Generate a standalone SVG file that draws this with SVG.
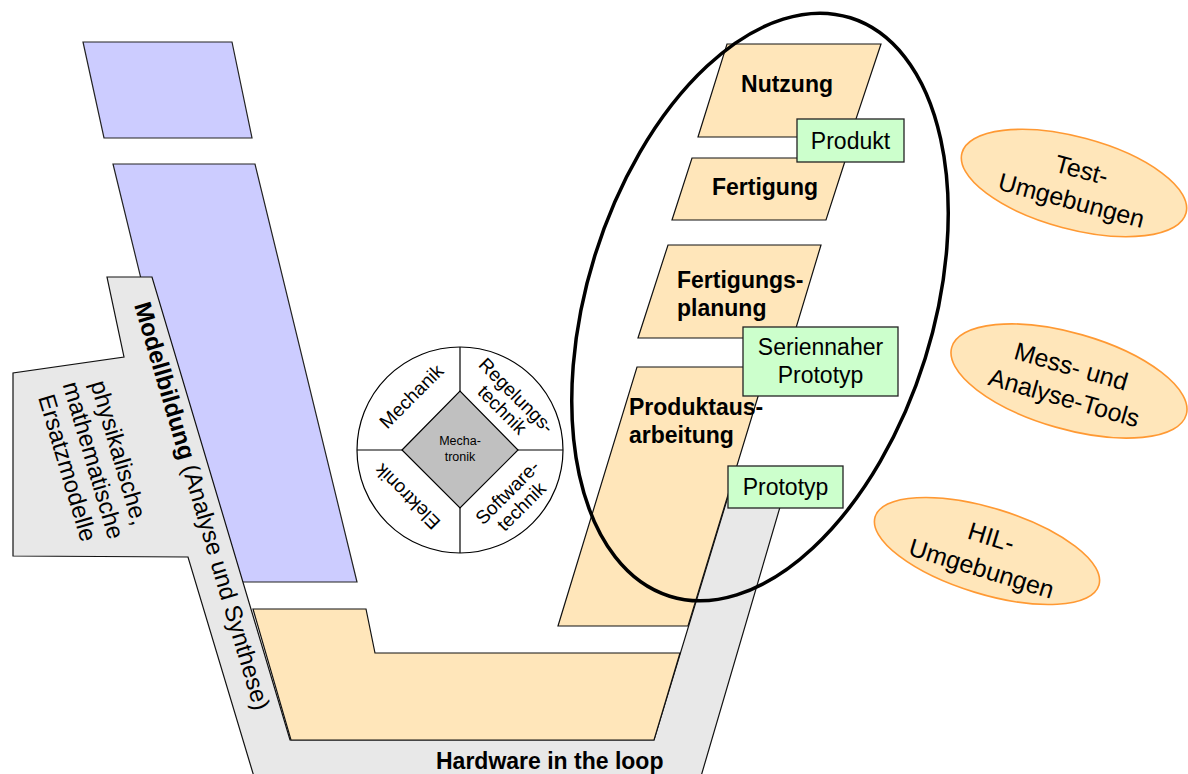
<svg xmlns="http://www.w3.org/2000/svg" width="1188" height="774" viewBox="0 0 1188 774">
  <style>
    text { font-family: "Liberation Sans", Arial, sans-serif; fill: #000; }
    .blue { fill: #CCCCFF; stroke: #222; stroke-width: 1.2; }
    .gray { fill: #E8E8E8; stroke: #111; stroke-width: 1.2; }
    .phase { fill: #FFE6BA; stroke: #111; stroke-width: 1.2; }
    .art { fill: #CCFFCC; stroke: #222; stroke-width: 1.3; }
    .tool { fill: #FFE6BA; stroke: #FF9933; stroke-width: 1.6; }
    .lbl { font-size: 23px; font-weight: bold; }
    .reg { font-size: 23px; }
    .side { font-size: 24px; }
    .mid { text-anchor: middle; }
    .tooltxt { font-size: 25px; text-anchor: middle; }
    .disc { font-size: 19px; text-anchor: middle; }
  </style>

  <rect x="0" y="0" width="1188" height="774" fill="#FFFFFF"/>

  <!-- left arm: design phases -->
  <g id="design-upper">
    <polygon class="blue" points="83,42 232,42 252,138 104,138"/>
  </g>
  <g id="design-lower">
    <polygon class="blue" points="113,164 255,164 357,582 215,582"/>
  </g>

  <!-- modelling / HIL band -->
  <g id="modelling-band">
    <polygon class="gray" points="107,277 152,277 290,740 654,740 730,490 785,490 697,790 258,790 188,557 13,556 13,373 124,357"/>
    <text class="side" transform="translate(134,305) rotate(73.5)"><tspan font-weight="bold">Modellbildung</tspan> (Analyse und Synthese)</text>
    <text class="side mid" transform="translate(111.5,455) rotate(73.5)">physikalische,</text>
    <text class="side mid" transform="translate(85.6,462.6) rotate(73.5)">mathematische</text>
    <text class="side mid" transform="translate(59.7,470.2) rotate(73.5)">Ersatzmodelle</text>
    <text class="lbl" x="436" y="769">Hardware in the loop</text>
  </g>

  <!-- bottom integration phase -->
  <g id="integration">
    <polygon class="phase" points="253,609 366,609 375,653 680,653 654,740 291,740"/>
  </g>

  <!-- right arm: realisation phases -->
  <g id="produktausarbeitung">
    <polygon class="phase" points="637,367 767,367 688,626 558,626"/>
    <text class="lbl" x="629" y="415">Produktaus-</text>
    <text class="lbl" x="629" y="443">arbeitung</text>
  </g>
  <g id="fertigungsplanung">
    <polygon class="phase" points="668,245 821,245 793,338 638,338"/>
    <text class="lbl" x="677" y="288">Fertigungs-</text>
    <text class="lbl" x="677" y="316">planung</text>
  </g>
  <g id="fertigung">
    <polygon class="phase" points="692,158 846,158 826,220 672,220"/>
    <text class="lbl mid" x="765" y="195">Fertigung</text>
  </g>
  <g id="nutzung">
    <polygon class="phase" points="727,44 881,44 850,137 698,137"/>
    <text class="lbl mid" x="787" y="92">Nutzung</text>
  </g>

  <!-- mechatronics disciplines -->
  <g id="mechatronik">
    <circle cx="460" cy="450" r="103" fill="#FFFFFF" stroke="#000" stroke-width="1.2"/>
    <line x1="460" y1="347" x2="460" y2="391" stroke="#000" stroke-width="1.2"/>
    <line x1="460" y1="508" x2="460" y2="553" stroke="#000" stroke-width="1.2"/>
    <line x1="357" y1="450" x2="402" y2="450" stroke="#000" stroke-width="1.2"/>
    <line x1="518" y1="450" x2="563" y2="450" stroke="#000" stroke-width="1.2"/>
    <polygon points="402,450 460,391 518,450 460,508" fill="#C0C0C0" stroke="#000" stroke-width="1.2"/>
    <text x="460" y="445" font-size="12.5" text-anchor="middle" fill="#333">Mecha-</text>
    <text x="460" y="461" font-size="12.5" text-anchor="middle" fill="#333">tronik</text>
    <g transform="translate(411,396) rotate(-45)">
      <text class="disc" x="0" y="7">Mechanik</text>
    </g>
    <g transform="translate(509,403) rotate(45)">
      <text class="disc" x="0" y="-4">Regelungs-</text>
      <text class="disc" x="0" y="16">technik</text>
    </g>
    <g transform="translate(514,499) rotate(-45)">
      <text class="disc" x="0" y="-3">Software-</text>
      <text class="disc" x="0" y="17">technik</text>
    </g>
    <g transform="translate(407,497) rotate(225)">
      <text class="disc" x="0" y="7">Elektronik</text>
    </g>
  </g>

  <!-- realisation scope -->
  <g id="scope">
    <ellipse cx="760" cy="307" rx="173" ry="303" transform="rotate(17.35 760 307)" fill="none" stroke="#000" stroke-width="3.5"/>
  </g>

  <!-- artefacts -->
  <g id="produkt">
    <rect class="art" x="797" y="119" width="107" height="43"/>
    <text class="reg mid" x="850.5" y="149">Produkt</text>
  </g>
  <g id="seriennaher-prototyp">
    <rect class="art" x="743" y="327" width="155" height="69"/>
    <text class="reg mid" x="820.5" y="355">Seriennaher</text>
    <text class="reg mid" x="820.5" y="383">Prototyp</text>
  </g>
  <g id="prototyp">
    <rect class="art" x="728" y="466" width="115" height="42"/>
    <text class="reg mid" x="785.5" y="495">Prototyp</text>
  </g>

  <!-- tool environments -->
  <g id="test-umgebungen" transform="translate(1074,183) rotate(15)">
    <ellipse class="tool" cx="0" cy="0" rx="116" ry="46"/>
    <text class="tooltxt" x="4" y="-6">Test-</text>
    <text class="tooltxt" x="2" y="26">Umgebungen</text>
  </g>
  <g id="mess-analyse-tools" transform="translate(1069,381) rotate(16)">
    <ellipse class="tool" cx="0" cy="0" rx="122" ry="48"/>
    <text class="tooltxt" x="-2" y="-6">Mess- und</text>
    <text class="tooltxt" x="0" y="26">Analyse-Tools</text>
  </g>
  <g id="hil-umgebungen" transform="translate(987,551) rotate(17)">
    <ellipse class="tool" cx="0" cy="0" rx="117" ry="43"/>
    <text class="tooltxt" x="0" y="-6">HIL-</text>
    <text class="tooltxt" x="0" y="27">Umgebungen</text>
  </g>
</svg>
